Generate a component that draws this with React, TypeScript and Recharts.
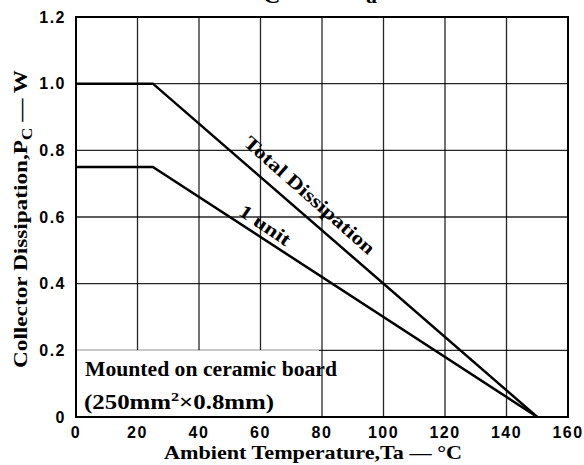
import React from 'react';
import { LineChart, Line, XAxis, YAxis, CartesianGrid, ReferenceArea, ReferenceDot, Customized } from 'recharts';

const temps = [0, 25, 150];
const totalDissipation = [1.0, 1.0, 0];
const oneUnit = [0.75, 0.75, 0];
const xTicks = [0, 20, 40, 60, 80, 100, 120, 140, 160];
const yTicks = [0, 0.2, 0.4, 0.6, 0.8, 1.0, 1.2];
const totalLabel = 'Total Dissipation';
const unitLabel = '1 unit';
const boxLine1 = 'Mounted on ceramic board';
const xLabel = 'Ambient Temperature,Ta \u2014 \u00B0C';

const data = temps.map((t, i) => ({ t, total: totalDissipation[i], unit: oneUnit[i] }));

const serif = '"Liberation Serif", "DejaVu Serif", serif';
const sans = '"Liberation Sans", Arial, sans-serif';

const tickStyle = { fill: '#000', fontFamily: sans, fontWeight: 700, fontSize: 16, letterSpacing: 1.5 };

const Title = () => (
  <g fontFamily={serif} fontWeight={700} fill="#000">
    <text x={246} y={-6} fontSize={22}>P</text>
    <text x={263} y={3} fontSize={24}>C</text>
    <text x={300} y={-6} fontSize={22}>{'\u2014'} T</text>
    <text x={366} y={3} fontSize={22}>a</text>
  </g>
);

const YLabel = () => (
  <text
    transform="translate(27,219) rotate(-90)"
    textAnchor="middle"
    fontFamily={serif}
    fontWeight={700}
    fontSize={19}
    fill="#000"
    textLength={298}
    lengthAdjust="spacingAndGlyphs"
  >
    Collector Dissipation,P<tspan dy={5} fontSize={14}>C</tspan>
    <tspan dy={-5}> {'\u2014'} W</tspan>
  </text>
);

const XLabel = () => (
  <text
    x={313}
    y={459}
    textAnchor="middle"
    fontFamily={serif}
    fontWeight={700}
    fontSize={19}
    fill="#000"
    textLength={298}
    lengthAdjust="spacingAndGlyphs"
  >
    {xLabel}
  </text>
);

export default function App() {
  return (
    <div style={{ position: 'absolute', left: 0, top: 0, background: '#fff' }}>
      <LineChart
        width={584}
        height={465}
        data={data}
        margin={{ top: 17, right: 16, bottom: 18, left: 16 }}
      >
        <CartesianGrid stroke="#000" strokeWidth={1.3} strokeOpacity={0.85} />
        <XAxis
          dataKey="t"
          type="number"
          domain={[0, 160]}
          ticks={xTicks}
          interval={0}
          height={30}
          tickLine={false}
          tickSize={8}
          axisLine={{ stroke: '#000', strokeWidth: 2 }}
          tick={tickStyle}
        />
        <YAxis
          type="number"
          domain={[0, 1.2]}
          ticks={yTicks}
          interval={0}
          width={60}
          tickLine={false}
          tickSize={8}
          axisLine={{ stroke: '#000', strokeWidth: 2 }}
          tick={tickStyle}
          tickFormatter={(v: number) => (v === 0 ? '0' : v.toFixed(1))}
        />
        <ReferenceArea x1={0} x2={79} y1={0} y2={0.2} fill="#fff" fillOpacity={1} stroke="none" />
        <ReferenceArea x1={0} x2={160} y1={0} y2={1.2} fill="none" stroke="#000" strokeWidth={2} />
        <Line
          dataKey="total"
          stroke="#000"
          strokeWidth={2.5}
          dot={false}
          isAnimationActive={false}
          type="linear"
        />
        <Line
          dataKey="unit"
          stroke="#000"
          strokeWidth={2.5}
          dot={false}
          isAnimationActive={false}
          type="linear"
        />
        <ReferenceDot
          x={76}
          y={0.666}
          r={0}
          shape={(p: any) => (
            <text
              transform={`translate(${p.cx},${p.cy}) rotate(41.5)`}
              textAnchor="middle"
              dominantBaseline="central"
              fontFamily={serif}
              fontWeight={700}
              fontSize={19}
              fill="#000"
              textLength={168}
              lengthAdjust="spacingAndGlyphs"
            >
              {totalLabel}
            </text>
          )}
        />
        <ReferenceDot
          x={61.5}
          y={0.576}
          r={0}
          shape={(p: any) => (
            <text
              transform={`translate(${p.cx},${p.cy}) rotate(34)`}
              textAnchor="middle"
              dominantBaseline="central"
              fontFamily={serif}
              fontWeight={700}
              fontSize={19}
              fill="#000"
              textLength={58}
              lengthAdjust="spacingAndGlyphs"
            >
              {unitLabel}
            </text>
          )}
        />
        <ReferenceDot
          x={0}
          y={0.2}
          r={0}
          shape={(p: any) => (
            <g>
              <text
                x={p.cx + 9}
                y={p.cy + 26}
                fontFamily={serif}
                fontWeight={700}
                fontSize={20}
                fill="#000"
                textLength={252}
                lengthAdjust="spacingAndGlyphs"
              >
                {boxLine1}
              </text>
              <text
                x={p.cx + 8}
                y={p.cy + 59}
                fontFamily={serif}
                fontWeight={700}
                fontSize={20}
                fill="#000"
                textLength={190}
                lengthAdjust="spacingAndGlyphs"
              >
                (250mm<tspan dy={-8} fontSize={13}>2</tspan>
                <tspan dy={8}>{'\u00D7'}0.8mm)</tspan>
              </text>
            </g>
          )}
        />
        <Customized component={Title} />
        <Customized component={YLabel} />
        <Customized component={XLabel} />
      </LineChart>
    </div>
  );
}
